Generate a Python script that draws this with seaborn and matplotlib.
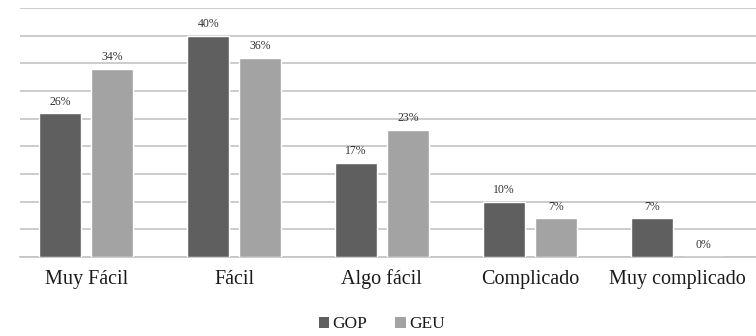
import matplotlib
matplotlib.use("Agg")
import matplotlib.pyplot as plt
import seaborn as sns
import pandas as pd
from matplotlib.patches import Patch

categories = ["Muy Fácil", "Fácil", "Algo fácil", "Complicado", "Muy complicado"]
gop = [26, 40, 17, 10, 7]
geu = [34, 36, 23, 7, 0]
groups = ["GOP", "GEU"]
colors = {"GOP": "#5f5f5f", "GEU": "#a3a3a3"}

df = pd.DataFrame({
    "categoria": categories * 2,
    "grupo": ["GOP"] * len(categories) + ["GEU"] * len(categories),
    "valor": gop + geu,
})

sns.set_theme(style="white")
plt.rcParams["font.family"] = ["Liberation Serif", "DejaVu Serif"]

fig = plt.figure(figsize=(7.56, 3.36), dpi=100)
ax = fig.add_axes([0.026, 0.235, 0.974, 0.741])

sns.barplot(data=df, x="categoria", y="valor", hue="grupo", order=categories,
            hue_order=groups, palette=colors, width=0.70, gap=0.19,
            saturation=1, ax=ax, legend=False, zorder=3)

for container in ax.containers:
    ax.bar_label(container, labels=[f"{v:.0f}%" for v in container.datavalues],
                 padding=4, fontsize=8.5, color="#333333")

ax.set_ylim(0, 45)
ax.set_xlim(-0.45, 4.53)
ax.set_yticks(range(0, 46, 5))
ax.yaxis.grid(True, color="#c4c4c4", linewidth=1.2)
ax.set_axisbelow(True)
ax.tick_params(axis="y", left=False, labelleft=False)
ax.tick_params(axis="x", bottom=False, labelsize=14.5, pad=3, colors="#1a1a1a")
ax.set_xlabel("")
ax.set_ylabel("")
for side in ["top", "right", "left"]:
    ax.spines[side].set_visible(False)
ax.spines["bottom"].set_color("#c4c4c4")
ax.spines["bottom"].set_linewidth(1.2)

handles = [Patch(facecolor=colors[g], edgecolor="none") for g in groups]
fig.legend(handles, groups, loc="center", bbox_to_anchor=(0.505, 0.035),
           ncol=2, frameon=False, fontsize=12.5, handlelength=0.6,
           handleheight=0.6, handletextpad=0.2, columnspacing=1.6,
           labelcolor="#1a1a1a")

fig.savefig("out.png", dpi=100)
